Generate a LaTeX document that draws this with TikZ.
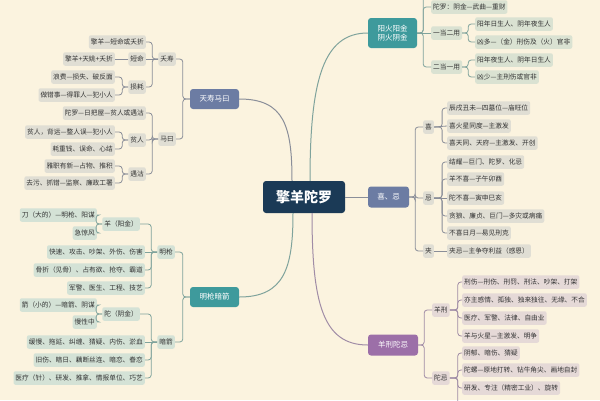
\documentclass[tikz,border=0pt]{standalone}
\usepackage{fontspec}
\newfontfamily\cjk{Noto Sans CJK SC}
\definecolor{bg}{HTML}{FBF3DF}
\definecolor{navy}{HTML}{1B3A56}
\definecolor{slate}{HTML}{6C7CA3}
\definecolor{teal}{HTML}{3E9A9C}
\definecolor{purp}{HTML}{9C6FA8}
\definecolor{lfA}{HTML}{E0DED4}
\definecolor{lfB}{HTML}{D4E2D6}
\definecolor{lfC}{HTML}{DAE2D2}
\definecolor{lfD}{HTML}{E5D9D7}
\definecolor{txt}{HTML}{333333}
\definecolor{lnA}{HTML}{8A8E99}
\definecolor{lnB}{HTML}{7FA39C}
\definecolor{lnD}{HTML}{A08CA6}
\tikzset{
  leaf/.style={fill=#1, rounded corners=2pt, inner xsep=2pt, inner ysep=0pt,
    minimum height=13.5pt, font=\cjk\fontsize{6.7}{7}\selectfont, text=txt},
  leaf/.default=lfA,
  mainbox/.style={fill=#1, rounded corners=3pt, text=white, inner sep=1pt,
    minimum width=49pt, minimum height=20pt, font=\cjk\fontsize{7.5}{9.5}\selectfont, align=center},
  conn/.style={draw=#1, line width=0.8pt, rounded corners=3pt},
  conn/.default=lnA,
  bigcurve/.style={draw=#1, line width=1pt}
}
\begin{document}
\begin{tikzpicture}[x=1pt,y=-1pt]
\useasboundingbox (0,0) rectangle (600,400);
\fill[bg] (0,0) rectangle (600,400);
\clip (0,0) rectangle (600,400);

% center
\node[fill=navy, rounded corners=3pt, text=white, minimum width=82pt, minimum height=32pt,
  font=\cjk\bfseries\fontsize{14}{16}\selectfont] (c) at (304,197) {擎羊陀罗};

% main boxes
\node[mainbox=slate] (tsmr) at (214.5,99) {天寿马曰};
\node[mainbox=teal] (mqaj) at (214.5,297) {明枪暗箭};
\node[mainbox=teal, minimum height=30pt] (yhyj) at (392.5,33) {阳火阳金\\阴火阴金};
\node[mainbox=slate, minimum width=41pt, minimum height=21pt] (xj) at (388.5,197) {喜、忌};
\node[mainbox=purp, minimum width=50pt, minimum height=21pt] (yxtj) at (393,345) {羊刑陀忌};

% main connectors
\draw[bigcurve=lnA] ([xshift=-12pt]c.north) .. controls +(0,-55) and +(45,0) .. (tsmr.east);
\draw[bigcurve=lnB] ([xshift=-11pt]c.south) .. controls +(0,55) and +(45,0) .. (mqaj.east);
\draw[bigcurve=lnB] ([xshift=6pt]c.north) .. controls +(0,-100) and +(-45,0) .. (yhyj.west);
\draw[bigcurve=lnA] (c.east) -- (xj.west);
\draw[bigcurve=lnD] ([xshift=8pt]c.south) .. controls +(0,90) and +(-45,0) .. (yxtj.west);

% ---------- upper left ----------
\node[leaf, anchor=east] (ys) at (176,59) {夭寿};
\node[leaf, anchor=east] (l1) at (146,42) {擎羊—短命或夭折};
\node[leaf, anchor=east] (dm) at (146,59) {短命};
\node[leaf, anchor=east] (l2) at (115,59) {擎羊+天姚+夭折};
\node[leaf, anchor=east] (sh) at (146,87) {损耗};
\node[leaf, anchor=east] (l3) at (115,77) {浪费—损失、破反面};
\node[leaf, anchor=east] (l4) at (115,95) {做错事—得罪人—犯小人};
\node[leaf, anchor=east] (my) at (176,139) {马曰};
\node[leaf, anchor=east] (l5) at (146,113) {陀罗—日把屋—贫人或遇沽};
\node[leaf, anchor=east] (pr) at (146,140) {贫人};
\node[leaf, anchor=east] (l6) at (115,132) {贫人，背运—整人误—犯小人};
\node[leaf, anchor=east] (l7) at (115,149) {耗重钱、误命、心结};
\node[leaf, anchor=east] (yg) at (146,174) {遇沽};
\node[leaf, anchor=east] (l8) at (115,166) {雅职有新—占物、推积};
\node[leaf, anchor=east] (l9) at (115,183) {去污、抓错—监察、廉政工署};

\draw[conn] (tsmr.west) -- ++(-7,0) |- (ys.east);
\draw[conn] (tsmr.west) -- ++(-7,0) |- (my.east);
\draw[conn] (ys.west) -- ++(-6,0) |- (l1.east);
\draw[conn] (ys.west) -- (dm.east);
\draw[conn] (ys.west) -- ++(-6,0) |- (sh.east);
\draw[conn] (dm.west) -- (l2.east);
\draw[conn] (sh.west) -- ++(-6,0) |- (l3.east);
\draw[conn] (sh.west) -- ++(-6,0) |- (l4.east);
\draw[conn] (my.west) -- ++(-6,0) |- (l5.east);
\draw[conn] (my.west) -- ++(-6,0) |- (pr.east);
\draw[conn] (my.west) -- ++(-6,0) |- (yg.east);
\draw[conn] (pr.west) -- ++(-6,0) |- (l6.east);
\draw[conn] (pr.west) -- ++(-6,0) |- (l7.east);
\draw[conn] (yg.west) -- ++(-6,0) |- (l8.east);
\draw[conn] (yg.west) -- ++(-6,0) |- (l9.east);

% ---------- lower left ----------
\node[leaf=lfB, anchor=east] (mq) at (175,252) {明枪};
\node[leaf=lfB, anchor=east] (yang) at (140,224) {羊（阳金）};
\node[leaf=lfB, anchor=east] (m1) at (97,215) {刀（大的）—明枪、阳谋};
\node[leaf=lfB, anchor=east] (m2) at (97,233) {急惊风};
\node[leaf=lfB, anchor=east] (m3) at (145,252) {快速、攻击、吵架、外伤、伤害};
\node[leaf=lfB, anchor=east] (m4) at (145,270) {骨折（见骨）、占有欲、抢夺、霸道};
\node[leaf=lfB, anchor=east] (m5) at (145,288) {军警、医生、工程、技艺};
\node[leaf=lfB, anchor=east] (aj) at (175,342) {暗箭};
\node[leaf=lfB, anchor=east] (tuo) at (140,314) {陀（阴金）};
\node[leaf=lfB, anchor=east] (a1) at (97,305) {箭（小的）—暗箭、阴谋};
\node[leaf=lfB, anchor=east] (a2) at (97,322) {慢性中};
\node[leaf=lfB, anchor=east] (a3) at (145,342) {缓慢、拖延、纠缠、猜疑、内伤、淤血};
\node[leaf=lfB, anchor=east] (a4) at (145,360) {旧伤、暗日、藕断丝连、暗恋、眷恋};
\node[leaf=lfB, anchor=east] (a5) at (145,378) {医疗（针）、研发、推拿、情报单位、巧艺};

\draw[conn=lnB] (mqaj.west) -- ++(-7,0) |- (mq.east);
\draw[conn=lnB] (mqaj.west) -- ++(-7,0) |- (aj.east);
\draw[conn=lnB] (mq.west) -- ++(-6,0) |- (yang.east);
\draw[conn=lnB] (mq.west) -- (m3.east);
\draw[conn=lnB] (mq.west) -- ++(-6,0) |- (m4.east);
\draw[conn=lnB] (mq.west) -- ++(-6,0) |- (m5.east);
\draw[conn=lnB] (yang.west) -- ++(-6,0) |- (m1.east);
\draw[conn=lnB] (yang.west) -- ++(-6,0) |- (m2.east);
\draw[conn=lnB] (aj.west) -- ++(-6,0) |- (tuo.east);
\draw[conn=lnB] (aj.west) -- (a3.east);
\draw[conn=lnB] (aj.west) -- ++(-6,0) |- (a4.east);
\draw[conn=lnB] (aj.west) -- ++(-6,0) |- (a5.east);
\draw[conn=lnB] (tuo.west) -- ++(-6,0) |- (a1.east);
\draw[conn=lnB] (tuo.west) -- ++(-6,0) |- (a2.east);

% ---------- upper right ----------
\coordinate (rtop) at (423,-4);
\node[leaf=lfC, anchor=west] (r0) at (431,7) {陀罗：阴金—武曲—重财};
\node[leaf=lfC, anchor=west] (ydey) at (431,33) {一当二用};
\node[leaf=lfC, anchor=west] (r1) at (475,24) {阳年日生人、阴年夜生人};
\node[leaf=lfC, anchor=west] (r2) at (475,42) {凶多—（金）刑伤及（火）官非};
\node[leaf=lfC, anchor=west] (edyy) at (431,67) {二当一用};
\node[leaf=lfC, anchor=west] (r3) at (475,60) {阳年夜生人、阴年日生人};
\node[leaf=lfC, anchor=west] (r4) at (475,77) {凶少—主刑伤或官非};

\draw[conn=lnB] (yhyj.east) -- ++(6,0) |- (rtop);
\draw[conn=lnB] (yhyj.east) -- ++(6,0) |- (r0.west);
\draw[conn=lnB] (yhyj.east) -- (ydey.west);
\draw[conn=lnB] (yhyj.east) -- ++(6,0) |- (edyy.west);
\draw[conn=lnB] (ydey.east) -- ++(6,0) |- (r1.west);
\draw[conn=lnB] (ydey.east) -- ++(6,0) |- (r2.west);
\draw[conn=lnB] (edyy.east) -- ++(6,0) |- (r3.west);
\draw[conn=lnB] (edyy.east) -- ++(6,0) |- (r4.west);

% ---------- middle right ----------
\node[leaf, anchor=west] (xi) at (423,127) {喜};
\node[leaf, anchor=west] (x1) at (447,108) {辰戌丑未—四墓位—庙旺位};
\node[leaf, anchor=west] (x2) at (447,126) {喜火星同度—主激发};
\node[leaf, anchor=west] (x3) at (447,143) {喜天同、天府—主激发、开创};
\node[leaf, anchor=west] (ji) at (423,198) {忌};
\node[leaf, anchor=west] (j1) at (447,162) {结耀—巨门、陀罗、化忌};
\node[leaf, anchor=west] (j2) at (447,179) {羊不喜—子午卯酉};
\node[leaf, anchor=west] (j3) at (447,198) {陀不喜—寅申巳亥};
\node[leaf, anchor=west] (j4) at (447,216) {贪狼、廉贞、巨门—多灾或病痛};
\node[leaf, anchor=west] (j5) at (447,233) {不喜日月—易见刑克};
\node[leaf, anchor=west] (jia) at (423,251) {夹};
\node[leaf, anchor=west] (k1) at (447,251) {夹忌—主争夺利益（感恩）};

\draw[conn] (xj.east) -- ++(6,0) |- (xi.west);
\draw[conn] (xj.east) -- ++(6,0) |- (ji.west);
\draw[conn] (xj.east) -- ++(6,0) |- (jia.west);
\draw[conn] (xi.east) -- ++(8,0) |- (x1.west);
\draw[conn] (xi.east) -- (x2.west);
\draw[conn] (xi.east) -- ++(8,0) |- (x3.west);
\draw[conn] (ji.east) -- ++(8,0) |- (j1.west);
\draw[conn] (ji.east) -- ++(8,0) |- (j2.west);
\draw[conn] (ji.east) -- (j3.west);
\draw[conn] (ji.east) -- ++(8,0) |- (j4.west);
\draw[conn] (ji.east) -- ++(8,0) |- (j5.west);
\draw[conn] (jia.east) -- (k1.west);

% ---------- lower right ----------
\coordinate (tbot) at (455,406);
\node[leaf=lfD, anchor=west] (yx) at (432,310) {羊刑};
\node[leaf=lfD, anchor=west] (y1) at (462,282) {刑伤—刑伤、刑罚、刑法、吵架、打架};
\node[leaf=lfD, anchor=west] (y2) at (462,300) {亦主感情、孤独、独来独往、无缘、不合};
\node[leaf=lfD, anchor=west] (y3) at (462,318) {医疗、军警、法律、自由业};
\node[leaf=lfD, anchor=west] (y4) at (462,336) {羊与火星—主激发、明争};
\node[leaf=lfD, anchor=west] (tj) at (432,378) {陀忌};
\node[leaf=lfD, anchor=west] (t1) at (462,353) {阴郁、暗伤、猜疑};
\node[leaf=lfD, anchor=west] (t2) at (462,370) {陀螺—原地打转、钻牛角尖、画地自封};
\node[leaf=lfD, anchor=west] (t3) at (462,388) {研发、专注（精密工业）、旋转};

\draw[conn=lnD] (yxtj.east) -- ++(6,0) |- (yx.west);
\draw[conn=lnD] (yxtj.east) -- ++(6,0) |- (tj.west);
\draw[conn=lnD] (yx.east) -- ++(8,0) |- (y1.west);
\draw[conn=lnD] (yx.east) -- ++(8,0) |- (y2.west);
\draw[conn=lnD] (yx.east) -- ++(8,0) |- (y3.west);
\draw[conn=lnD] (yx.east) -- ++(8,0) |- (y4.west);
\draw[conn=lnD] (tj.east) -- ++(8,0) |- (t1.west);
\draw[conn=lnD] (tj.east) -- ++(8,0) |- (t2.west);
\draw[conn=lnD] (tj.east) -- ++(8,0) |- (t3.west);
\draw[conn=lnD] (tj.east) -- ++(8,0) |- (tbot);
\end{tikzpicture}
\end{document}
